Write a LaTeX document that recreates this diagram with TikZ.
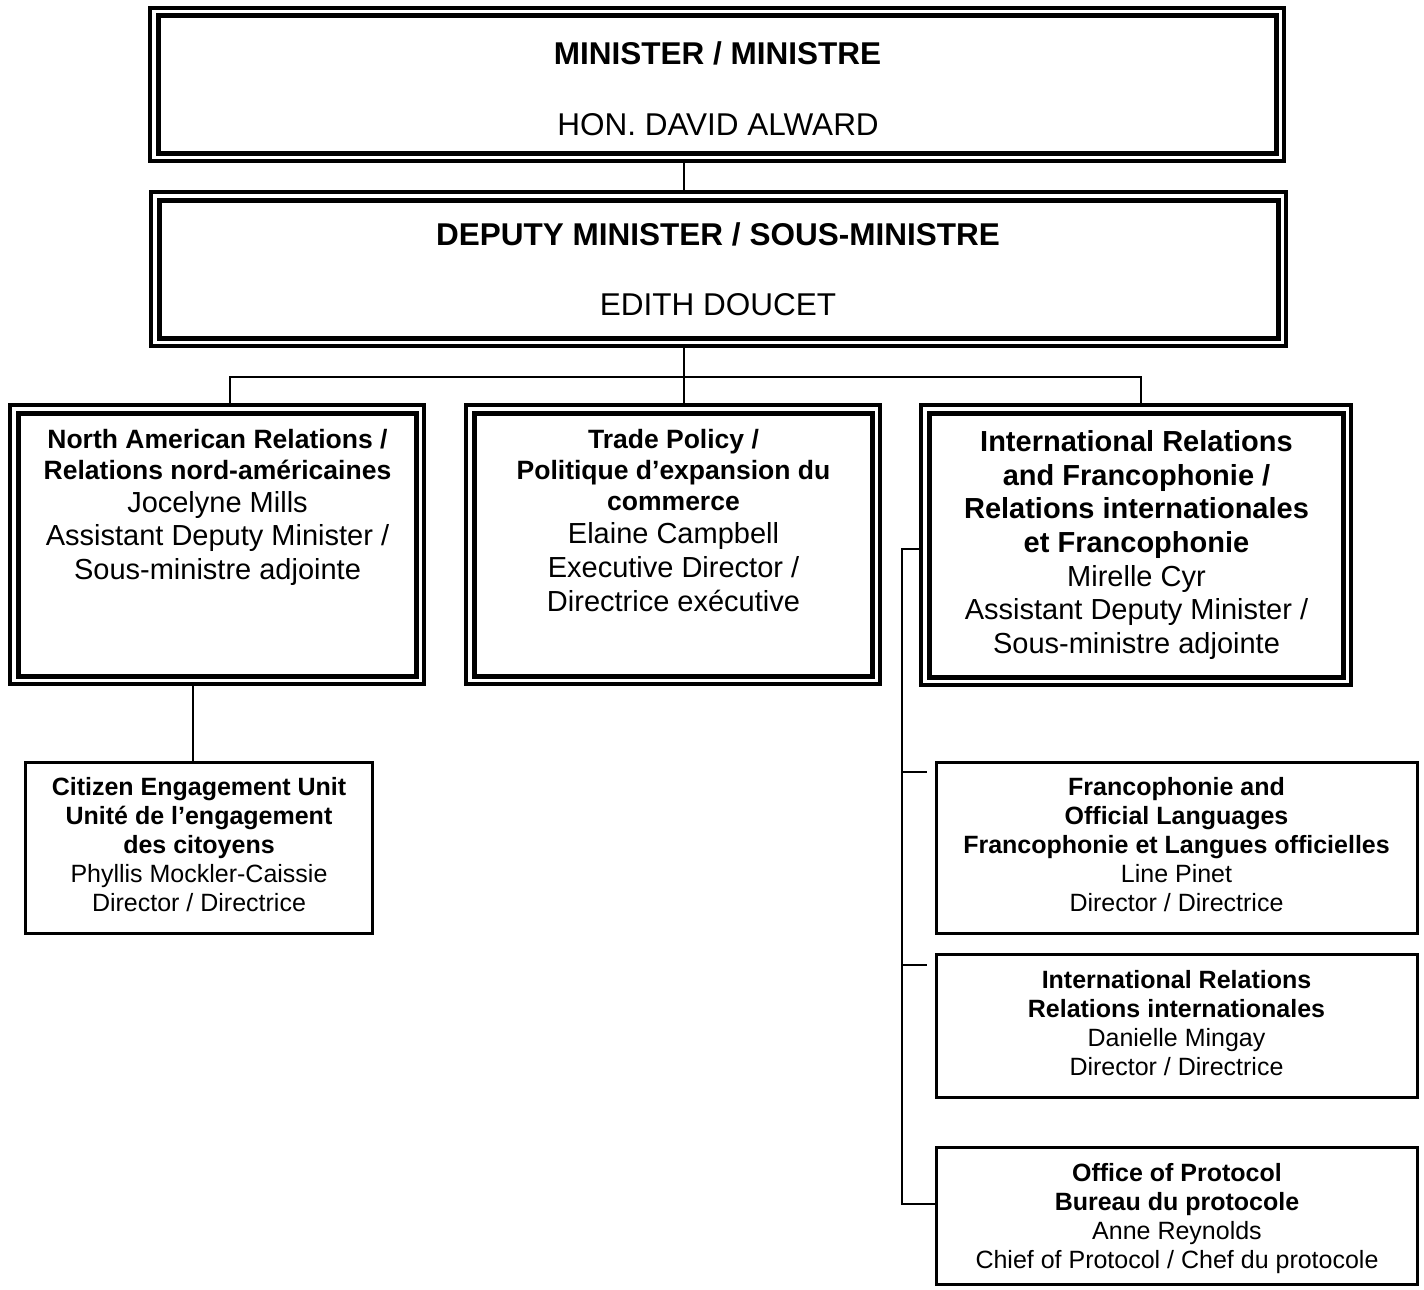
\documentclass[tikz,border=0pt]{standalone}
\usepackage{fontspec}
\setmainfont{Liberation Sans}
\begin{document}
\begin{tikzpicture}[x=1pt,y=-1pt,
  dblbox/.style={draw, line width=3.5pt, rectangle, inner sep=0pt, outer sep=0pt, anchor=north west},
  innerline/.style={line width=5pt},
  sglbox/.style={draw, line width=3pt, rectangle, inner sep=0pt, outer sep=0pt, anchor=north west},
  conn/.style={line width=2pt},
  TB/.style={anchor=base, inner sep=0pt, font=\bfseries\fontsize{31.5}{36}\selectfont},
  TR/.style={anchor=base, inner sep=0pt, font=\fontsize{31.5}{36}\selectfont},
  MB/.style={anchor=base, inner sep=0pt, font=\bfseries\fontsize{26.5}{31}\selectfont},
  MR/.style={anchor=base, inner sep=0pt, font=\fontsize{29}{33}\selectfont},
  IB/.style={anchor=base, inner sep=0pt, font=\bfseries\fontsize{29}{33}\selectfont},
  SB/.style={anchor=base, inner sep=0pt, font=\bfseries\fontsize{25}{29}\selectfont},
  SR/.style={anchor=base, inner sep=0pt, font=\fontsize{25}{29}\selectfont}]
\useasboundingbox (0,0) rectangle (1424,1290);

% double-bordered boxes
\node[dblbox, minimum width=1134pt, minimum height=153pt] (min) at (150,8) {};
\node[dblbox, minimum width=1135pt, minimum height=154pt] (dep) at (151,192) {};
\node[dblbox, minimum width=414pt, minimum height=279pt] (na) at (10,405) {};
\node[dblbox, minimum width=414pt, minimum height=279pt] (tp) at (466,405) {};
\node[dblbox, minimum width=430pt, minimum height=280pt] (ir) at (921,405) {};
\foreach \n in {min,dep,na,tp,ir}
  \draw[innerline] ([shift={(8,8)}]\n.north west) rectangle ([shift={(-8,-8)}]\n.south east);

% single boxes
\node[sglbox, minimum width=347pt, minimum height=171pt] (cit) at (25,762) {};
\node[sglbox, minimum width=481pt, minimum height=171pt] (flo) at (936,762) {};
\node[sglbox, minimum width=481pt, minimum height=143pt] (irs) at (936,954) {};
\node[sglbox, minimum width=481pt, minimum height=137pt] (pro) at (936,1147) {};

% helper coordinates
\coordinate (xm) at (684,0);
\coordinate (xa) at (229.5,0);
\coordinate (xi) at (1141,0);
\coordinate (xc) at (193,0);
\coordinate (bus) at (0,377);
\coordinate (sp) at (902,0);
\coordinate (yt) at (0,549);
\coordinate (yb) at (0,1204);
\coordinate (t1) at (927,772);
\coordinate (t2) at (927,965);

% connectors
\draw[conn] (min.south -| xm) -- (dep.north -| xm);
\draw[conn] (dep.south -| xm) -- (tp.north -| xm);
\draw[conn] (na.north -| xa) -- (xa |- bus) -- (xi |- bus) -- (ir.north -| xi);
\draw[conn] (na.south -| xc) -- (cit.north -| xc);
\draw[conn] (ir.west |- yt) -- (sp |- yt) -- (sp |- yb) -- (pro.west |- yb);
\draw[conn] (sp |- t1) -- (t1);
\draw[conn] (sp |- t2) -- (t2);

% texts: minister
\node[TB] (min1) at (717.5,64.5) {MINISTER / MINISTRE};
\node[TR] (min2) at (718,135.5) {HON. DAVID ALWARD};
% deputy
\node[TB] (dep1) at (718,245) {DEPUTY MINISTER / SOUS-MINISTRE};
\node[TR] (dep2) at (718,315) {EDITH DOUCET};
% north american
\node[MB] (na1) at (217.5,448) {North American Relations /};
\node[MB] (na2) at (217.5,479.5) {Relations nord-américaines};
\node[MR] (na3) at (217.5,512) {Jocelyne Mills};
\node[MR] (na4) at (217.5,545) {Assistant Deputy Minister /};
\node[MR] (na5) at (217.5,579) {Sous-ministre adjointe};
% trade
\node[MB] (tp1) at (673.5,448) {Trade Policy /};
\node[MB] (tp2) at (673.5,479.5) {Politique d’expansion du};
\node[MB] (tp3) at (673.5,510) {commerce};
\node[MR] (tp4) at (673.5,543) {Elaine Campbell};
\node[MR] (tp5) at (673.5,577) {Executive Director /};
\node[MR] (tp6) at (673.5,611) {Directrice exécutive};
% international
\node[IB] (ir1) at (1136.5,451.7) {International Relations};
\node[IB] (ir2) at (1136.5,485) {and Francophonie /};
\node[IB] (ir3) at (1136.5,518.3) {Relations internationales};
\node[IB] (ir4) at (1136.5,552.5) {et Francophonie};
\node[MR] (ir5) at (1136.5,586) {Mirelle Cyr};
\node[MR] (ir6) at (1136.5,619.5) {Assistant Deputy Minister /};
\node[MR] (ir7) at (1136.5,653.5) {Sous-ministre adjointe};
% citizen
\node[SB] (cit1) at (199,795) {Citizen Engagement Unit};
\node[SB] (cit2) at (199,824.5) {Unité de l’engagement};
\node[SB] (cit3) at (199,853.5) {des citoyens};
\node[SR] (cit4) at (199,882.7) {Phyllis Mockler-Caissie};
\node[SR] (cit5) at (199,911.7) {Director / Directrice};
% francophonie
\node[SB] (flo1) at (1176.5,795) {Francophonie and};
\node[SB] (flo2) at (1176.5,824.5) {Official Languages};
\node[SB] (flo3) at (1176.5,853.5) {Francophonie et Langues officielles};
\node[SR] (flo4) at (1176.5,882.7) {Line Pinet};
\node[SR] (flo5) at (1176.5,911.7) {Director / Directrice};
% international relations (sub)
\node[SB] (irs1) at (1176.5,988.3) {International Relations};
\node[SB] (irs2) at (1176.5,1017) {Relations internationales};
\node[SR] (irs3) at (1176.5,1046.5) {Danielle Mingay};
\node[SR] (irs4) at (1176.5,1075.5) {Director / Directrice};
% protocol
\node[SB] (pro1) at (1177,1181) {Office of Protocol};
\node[SB] (pro2) at (1177,1210) {Bureau du protocole};
\node[SR] (pro3) at (1177,1239) {Anne Reynolds};
\node[SR] (pro4) at (1177,1268) {Chief of Protocol / Chef du protocole};
\end{tikzpicture}
\end{document}
